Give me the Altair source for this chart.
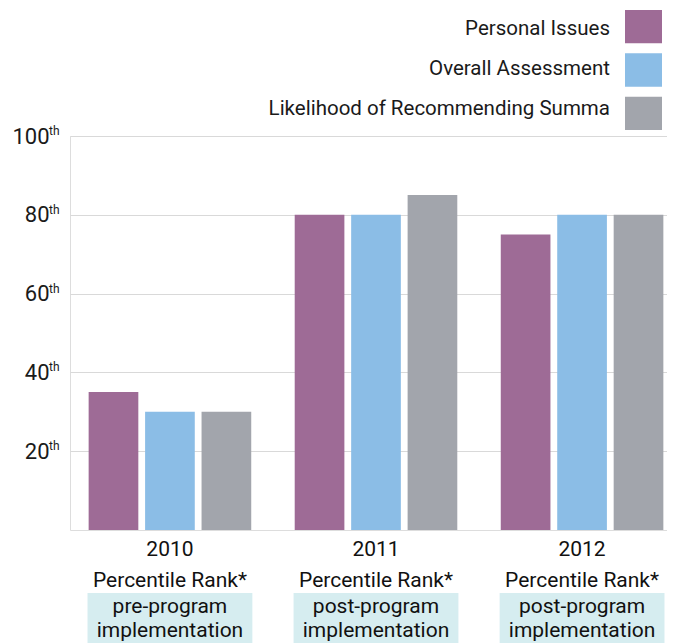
import altair as alt
import pandas as pd

years = ["2010", "2011", "2012"]
series = ["Personal Issues", "Overall Assessment", "Likelihood of Recommending Summa"]
colors = ["#9e6b96", "#8bbde6", "#a2a5ac"]
personal = [35, 80, 75]
overall = [30, 80, 80]
likelihood = [30, 85, 80]
phase = ["pre-program", "post-program", "post-program"]
rank_label = "Percentile Rank*"
ticks = [20, 40, 60, 80, 100]

FONT = "Roboto"

rows = []
for i, y in enumerate(years):
    for s, vals in zip(series, [personal, overall, likelihood]):
        rows.append({"year": y, "series": s, "value": vals[i]})
df = pd.DataFrame(rows)
lab_df = pd.DataFrame({"year": years, "phase": phase, "rank": [rank_label] * 3,
                       "impl": ["implementation"] * 3})
leg_df = pd.DataFrame({"series": series})
tick_df = pd.DataFrame({"t": ticks, "sup": ["th"] * len(ticks)})

xscale = alt.Scale(domain=years, paddingInner=0.2, paddingOuter=0.085, range=[0, 612])
yscale = alt.Scale(domain=[0, 100])
cscale = alt.Scale(domain=series, range=colors)

bars = alt.Chart(df).mark_bar().encode(
    x=alt.X("year:N", scale=xscale, axis=None, sort=years),
    xOffset=alt.XOffset("series:N", sort=series,
                        scale=alt.Scale(domain=series, paddingInner=0.12, paddingOuter=0.02)),
    y=alt.Y("value:Q", scale=yscale,
            axis=alt.Axis(values=ticks, grid=True, gridColor="#d9d9d9", gridWidth=1.2,
                          domain=False, ticks=False, labelPadding=21,
                          labelFontSize=22, labelColor="#1a1a1a", labelFont=FONT, title=None)),
    color=alt.Color("series:N", scale=cscale, legend=None),
)

sup = alt.Chart(tick_df).mark_text(align="left", baseline="alphabetic", fontSize=12,
                                    font=FONT, color="#1a1a1a", dx=-21, dy=-1).encode(
    x=alt.value(0),
    y=alt.Y("t:Q", scale=yscale, axis=None),
    text="sup:N",
)

box = alt.Chart(lab_df).mark_rect(color="#d6edf0").encode(
    x=alt.X("year:N", scale=xscale, axis=None, sort=years),
    y=alt.value(457), y2=alt.value(520),
)

def line(field, ypix):
    return alt.Chart(lab_df).mark_text(fontSize=21, font=FONT, color="#111",
                                       baseline="middle").encode(
        x=alt.X("year:N", scale=xscale, axis=None, sort=years),
        y=alt.value(ypix),
        text=f"{field}:N",
    )

t_year = line("year", 414)
t_rank = line("rank", 445)
t_phase = line("phase", 471)
t_impl = line("impl", 495)

legy = alt.Scale(domain=series, range=[-126, -6], paddingInner=0.233, paddingOuter=0)
leg_rect = alt.Chart(leg_df).mark_rect().encode(
    x=alt.value(555), x2=alt.value(592),
    y=alt.Y("series:N", scale=legy, axis=None, sort=series),
    color=alt.Color("series:N", scale=cscale, legend=None),
)
leg_text = alt.Chart(leg_df).mark_text(align="right", baseline="middle", fontSize=20.5,
                                       font=FONT, color="#1a1a1a", dy=-1).encode(
    x=alt.value(540),
    y=alt.Y("series:N", scale=legy, axis=None, sort=series),
    text="series:N",
)

chart = alt.layer(
    box, bars, sup, t_year, t_rank, t_phase, t_impl, leg_rect, leg_text
).resolve_scale(y="independent").properties(
    width=597, height=394,
    autosize=alt.AutoSizeParams(type="none"),
    padding={"left": 62, "top": 128, "right": 0, "bottom": 130},
).configure_view(stroke=None).configure(font=FONT)

chart.save("out.html", embed_options={"renderer": "svg", "actions": False})
